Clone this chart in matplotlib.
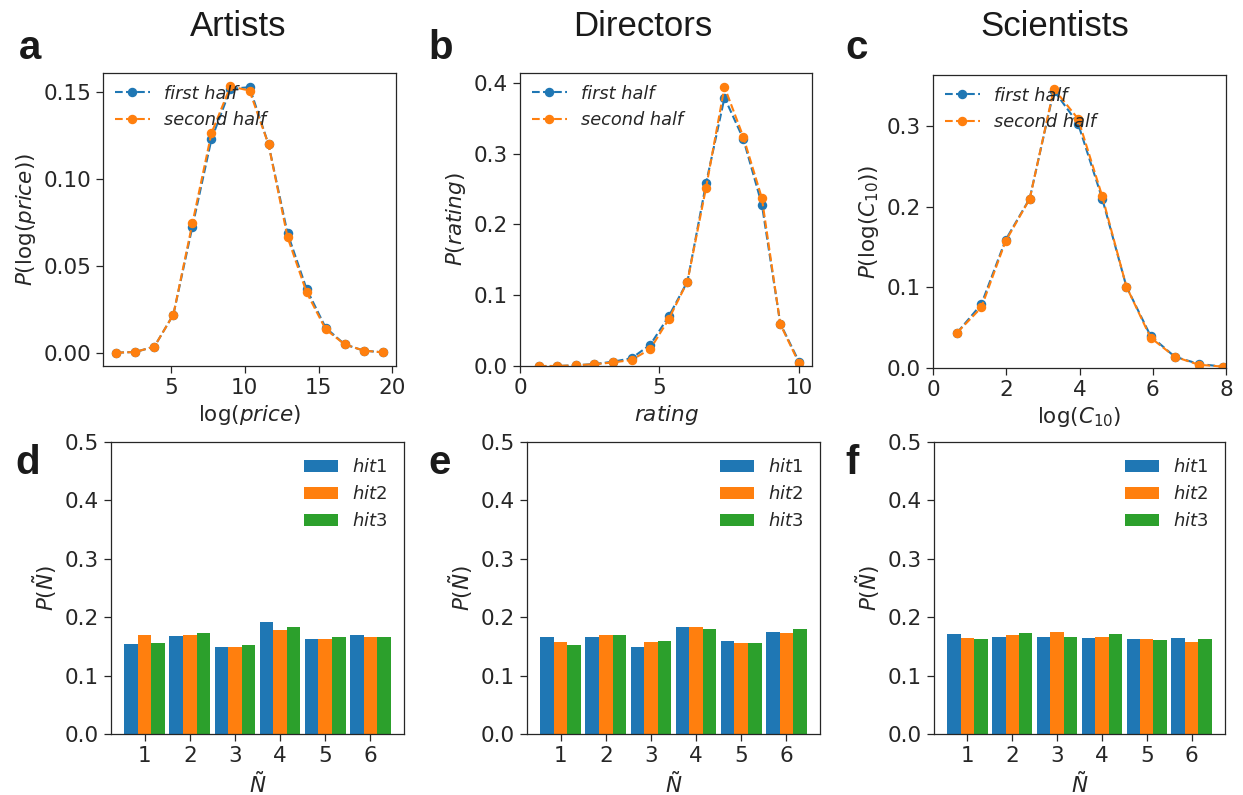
import matplotlib
matplotlib.use("Agg")
import matplotlib.pyplot as plt

# ---- data -------------------------------------------------------------
price_x = [1.29, 2.58, 3.87, 5.16, 6.45, 7.74, 9.03, 10.32, 11.61, 12.90,
           14.19, 15.48, 16.77, 18.06, 19.35]
price_first = [0.0, 0.0004, 0.0035, 0.022, 0.0727, 0.123, 0.152, 0.153,
               0.120, 0.0688, 0.0367, 0.0144, 0.0048, 0.0012, 0.0002]
price_second = [0.0, 0.0004, 0.0035, 0.022, 0.0746, 0.1265, 0.1535, 0.151,
                0.120, 0.0665, 0.0348, 0.0135, 0.0048, 0.0012, 0.0002]

rating_x = [0.67, 1.33, 2.00, 2.67, 3.33, 4.00, 4.67, 5.33, 6.00, 6.67,
            7.33, 8.00, 8.67, 9.33, 10.00]
rating_first = [0.0, 0.0, 0.001, 0.0028, 0.006, 0.011, 0.030, 0.070, 0.119,
                0.258, 0.379, 0.321, 0.228, 0.060, 0.006]
rating_second = [0.0, 0.0, 0.001, 0.0025, 0.005, 0.0085, 0.024, 0.066, 0.119,
                 0.252, 0.394, 0.324, 0.237, 0.059, 0.004]

c10_x = [0.66, 1.32, 1.98, 2.64, 3.30, 3.96, 4.62, 5.28, 5.94, 6.60, 7.26, 7.92]
c10_first = [0.0439, 0.079, 0.1586, 0.210, 0.344, 0.303, 0.210, 0.101,
             0.0398, 0.014, 0.005, 0.0017]
c10_second = [0.0439, 0.075, 0.157, 0.2095, 0.346, 0.309, 0.213, 0.101,
              0.0377, 0.014, 0.004, 0.0017]

n_tilde = [1, 2, 3, 4, 5, 6]
artists_hits = {
    "hit1": [0.1546, 0.168, 0.1495, 0.192, 0.163, 0.170],
    "hit2": [0.170, 0.170, 0.1495, 0.1786, 0.163, 0.1666],
    "hit3": [0.156, 0.173, 0.153, 0.1837, 0.1666, 0.1666],
}
directors_hits = {
    "hit1": [0.1666, 0.1666, 0.1495, 0.1837, 0.160, 0.175],
    "hit2": [0.158, 0.170, 0.158, 0.1837, 0.156, 0.1734],
    "hit3": [0.153, 0.170, 0.160, 0.180, 0.156, 0.180],
}
scientists_hits = {
    "hit1": [0.1717, 0.1666, 0.1666, 0.165, 0.163, 0.165],
    "hit2": [0.165, 0.170, 0.175, 0.1666, 0.163, 0.158],
    "hit3": [0.163, 0.1734, 0.1666, 0.1717, 0.1614, 0.163],
}

titles = ["Artists", "Directors", "Scientists"]
letters = ["a", "b", "c", "d", "e", "f"]

# ---- style ------------------------------------------------------------
DARK = "#262626"
plt.rcParams.update({
    "font.family": "DejaVu Sans",
    "font.size": 15.5,
    "axes.edgecolor": DARK,
    "axes.linewidth": 0.9,
    "axes.labelcolor": DARK,
    "xtick.color": DARK,
    "ytick.color": DARK,
    "xtick.labelsize": 15.5,
    "ytick.labelsize": 15.5,
    "xtick.major.size": 5,
    "ytick.major.size": 5,
    "xtick.major.width": 0.9,
    "ytick.major.width": 0.9,
    "axes.labelsize": 15.5,
    "text.color": DARK,
    "mathtext.fontset": "dejavusans",
})

W, H = 1243, 795
fig = plt.figure(figsize=(W / 100, H / 100), dpi=100)


def px_axes(left, top, right, bottom):
    return fig.add_axes([left / W, 1 - bottom / H, (right - left) / W, (bottom - top) / H])


blue, orange, green = "#1f77b4", "#ff7f0e", "#2ca02c"

# ---- top row: distributions -------------------------------------------
ax_a = px_axes(103, 73, 396, 366)
ax_b = px_axes(520, 73, 812, 366)
ax_c = px_axes(933, 75, 1226, 368)

line_kw = dict(ls="--", marker="o", ms=5.8, lw=1.5)
for ax, x, y1, y2 in [(ax_a, price_x, price_first, price_second),
                      (ax_b, rating_x, rating_first, rating_second),
                      (ax_c, c10_x, c10_first, c10_second)]:
    ax.plot(x, y1, color=blue, label="first half", **line_kw)
    ax.plot(x, y2, color=orange, label="second half", **line_kw)
    leg = ax.legend(loc="upper left", frameon=False,
                    prop={"style": "italic", "size": 12.8},
                    borderaxespad=0.25, handletextpad=0.8, handlelength=2.0)
    for t in leg.get_texts():
        t.set_color(DARK)

ax_a.set_xticks([5, 10, 15, 20])
ax_a.set_yticks([0.0, 0.05, 0.10, 0.15])
ax_a.set_xlabel(r"$\log(price)$")
ax_a.set_ylabel(r"$P(\log(price))$")

ax_b.set_xlim(left=0)
ax_b.set_ylim(bottom=0)
ax_b.set_xticks([0, 5, 10])
ax_b.set_yticks([0.0, 0.1, 0.2, 0.3, 0.4])
ax_b.set_xlabel(r"$rating$")
ax_b.set_ylabel(r"$P(rating)$")

ax_c.set_xlim(0, 8)
ax_c.set_ylim(bottom=0)
ax_c.set_xticks([0, 2, 4, 6, 8])
ax_c.set_yticks([0.0, 0.1, 0.2, 0.3])
ax_c.set_xlabel(r"$\log(C_{10})$")
ax_c.set_ylabel(r"$P(\log(C_{10}))$")

# ---- bottom row: hit position distributions ---------------------------
ax_d = px_axes(111, 442, 404, 734)
ax_e = px_axes(527, 442, 820, 734)
ax_f = px_axes(934, 442, 1225, 734)

width = 0.3
offsets = [-width, 0.0, width]
colors = [blue, orange, green]
for ax, hits in [(ax_d, artists_hits), (ax_e, directors_hits), (ax_f, scientists_hits)]:
    for (name, vals), off, col in zip(hits.items(), offsets, colors):
        ax.bar([n + off for n in n_tilde], vals, width=width, color=col,
               label=r"$%s$%s" % (name[:3], name[3:]))
    ax.set_ylim(0, 0.5)
    ax.set_yticks([0.0, 0.1, 0.2, 0.3, 0.4, 0.5])
    ax.set_xticks(n_tilde)
    ax.set_xlabel(r"$\tilde{N}$")
    ax.set_ylabel(r"$P(\tilde{N})$")
    leg = ax.legend(loc="upper right", frameon=False, prop={"size": 13},
                    borderaxespad=0.5, handletextpad=0.8, handlelength=1.9)
    for t in leg.get_texts():
        t.set_color(DARK)

# ---- titles and panel letters -----------------------------------------
for cx, t in zip([238, 643, 1055], titles):
    fig.text(cx / W, 1 - 36.5 / H, t, ha="center", va="baseline",
             fontsize=25, family="Liberation Sans", color="#1a1a1a")

letter_pos = [(19, 59), (428, 59), (845, 59), (15, 474), (428, 474), (845, 474)]
for (lx, ly), letter in zip(letter_pos, letters):
    fig.text(lx / W, 1 - ly / H, letter, ha="left", va="baseline",
             fontsize=29, fontweight="bold", family="Liberation Sans", color="#1a1a1a")

fig.savefig("out.png", dpi=100)
